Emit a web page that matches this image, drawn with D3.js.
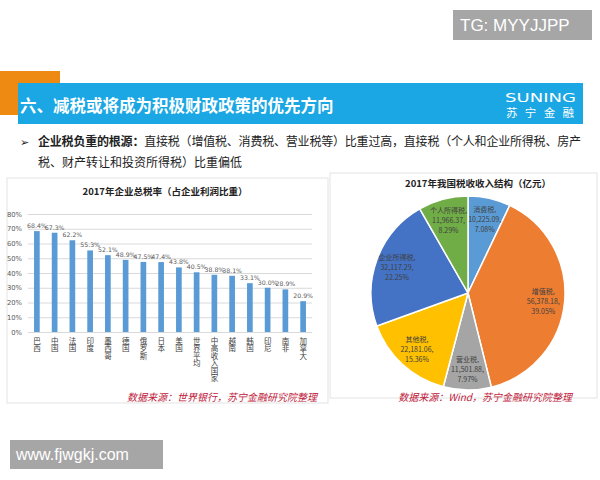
<!DOCTYPE html>
<html>
<head>
<meta charset="utf-8">
<script src="https://cdn.jsdelivr.net/npm/d3@7"></script>
<style>
body { margin: 0; background: #fff; }
svg { display: block; font-family: "Noto Sans CJK SC", "Noto Sans", sans-serif; }
</style>
</head>
<body>
<script>
// bar chart data
var countries = ["巴西", "中国", "法国", "印度", "墨西哥", "德国", "俄罗斯", "日本", "美国", "世界平均", "中高收入国家", "越南", "韩国", "印尼", "南非", "加拿大"];
var taxRates = [68.4, 67.3, 62.2, 55.3, 52.1, 48.9, 47.5, 47.4, 43.8, 40.5, 38.8, 38.1, 33.1, 30.0, 28.9, 20.9];
var yTicks = [0, 10, 20, 30, 40, 50, 60, 70, 80];

// pie data
var taxNames = ["消费税", "增值税", "营业税", "其他税", "企业所得税", "个人所得税"];
var taxValues = [10225.09, 56378.18, 11501.88, 22181.06, 32117.29, 11966.37];
var taxPcts = ["7.08%", "39.05%", "7.97%", "15.36%", "22.25%", "8.29%"];
var pieColors = ["#5b9bd5", "#ed7d31", "#a5a5a5", "#ffc000", "#4472c4", "#70ad47"];

var svg = d3.select("body").append("svg")
  .attr("width", 600)
  .attr("height", 480);

// watermark top right
svg.append("rect").attr("x", 453).attr("y", 10).attr("width", 139).attr("height", 30).attr("fill", "#a6a6a6");
svg.append("text").attr("x", 460).attr("y", 31).attr("fill", "#fff")
  .style("font-family", "Liberation Sans, Arial, sans-serif").style("font-size", "17px")
  .text("TG: MYYJJPP");

// header bar
svg.append("rect").attr("x", 0).attr("y", 71).attr("width", 60).attr("height", 44).attr("fill", "#ee8a12");
svg.append("rect").attr("x", 18).attr("y", 83).attr("width", 565).attr("height", 41).attr("fill", "#1aa7e3");
svg.append("text").attr("x", 20).attr("y", 112).attr("fill", "#fff")
  .style("font-size", "16.5px").style("font-weight", "bold")
  .text("六、减税或将成为积极财政政策的优先方向");
svg.append("text").attr("x", 505).attr("y", 102).attr("fill", "#fff")
  .attr("textLength", 71).attr("lengthAdjust", "spacingAndGlyphs")
  .style("font-family", "DejaVu Sans, sans-serif").style("font-size", "12px")
  .text("SUNING");
svg.append("text").attr("x", 506).attr("y", 117).attr("fill", "#fff")
  .attr("textLength", 68).attr("lengthAdjust", "spacing")
  .style("font-size", "11.5px")
  .text("苏宁金融");

// bullet text
svg.append("text").attr("x", 20).attr("y", 146).style("font-size", "11px").attr("fill", "#222").text("➢");
var line1 = svg.append("text").attr("x", 38).attr("y", 146).style("font-size", "12px").attr("fill", "#222")
  .attr("textLength", 543).attr("lengthAdjust", "spacing");
line1.append("tspan").style("font-weight", "bold").text("企业税负重的根源：");
line1.append("tspan").text("直接税（增值税、消费税、营业税等）比重过高，直接税（个人和企业所得税、房产");
svg.append("text").attr("x", 38).attr("y", 167).style("font-size", "12px").attr("fill", "#222")
  .text("税、财产转让和投资所得税）比重偏低");

// panels
svg.append("rect").attr("x", 7).attr("y", 178).attr("width", 321).attr("height", 225)
  .attr("fill", "#fff").attr("stroke", "#e3e3e3");
svg.append("rect").attr("x", 330).attr("y", 173).attr("width", 267).attr("height", 225)
  .attr("fill", "#fff").attr("stroke", "#e3e3e3");

// ---- bar chart ----
var x = d3.scaleBand().domain(countries).range([28, 312]).paddingInner(0.68).paddingOuter(0.34);
var y = d3.scaleLinear().domain([0, 80]).range([332, 214]);

svg.append("text").attr("x", 165).attr("y", 195).attr("text-anchor", "middle")
  .style("font-size", "9.5px").style("font-weight", "bold").attr("fill", "#222")
  .text("2017年企业总税率（占企业利润比重）");

var yAxis = d3.axisLeft(y).tickValues(yTicks).tickSize(-284).tickFormat(function(d) { return d + "%"; });
var gy = svg.append("g").attr("transform", "translate(28,0)").call(yAxis);
gy.select(".domain").remove();
gy.selectAll(".tick line").attr("stroke", "#d9d9d9");
gy.selectAll(".tick text").attr("x", -6).attr("fill", "#595959")
  .style("font-family", "DejaVu Sans, sans-serif").style("font-size", "6.8px");

svg.selectAll(".bar")
  .data(taxRates)
  .enter().append("rect")
  .attr("class", "bar")
  .attr("x", function(d, i) { return x(countries[i]); })
  .attr("width", x.bandwidth())
  .attr("y", function(d) { return y(d); })
  .attr("height", function(d) { return y(0) - y(d); })
  .attr("fill", "#5b9bd5");

svg.selectAll(".val")
  .data(taxRates)
  .enter().append("text")
  .attr("class", "val")
  .attr("x", function(d, i) { return x(countries[i]) + x.bandwidth() / 2; })
  .attr("y", function(d) { return y(d) - 3; })
  .attr("text-anchor", "middle")
  .attr("fill", "#595959")
  .style("font-family", "DejaVu Sans, sans-serif").style("font-size", "6.2px")
  .text(function(d) { return d.toFixed(1) + "%"; });

// vertical category labels, one glyph per row
svg.selectAll(".cat")
  .data(countries)
  .enter().append("text")
  .attr("class", "cat")
  .attr("x", function(d) { return x(d) + x.bandwidth() / 2; })
  .attr("y", 337)
  .attr("fill", "#404040")
  .style("font-size", "7.5px")
  .style("writing-mode", "vertical-rl")
  .style("text-orientation", "upright")
  .text(function(d) { return d; });

svg.append("text").attr("x", 317).attr("y", 401).attr("text-anchor", "end")
  .attr("fill", "#c0203a").style("font-size", "10px").style("font-style", "italic")
  .text("数据来源：世界银行，苏宁金融研究院整理");

// ---- pie chart ----
var cx = 468, cy = 293, r = 97;
svg.append("text").attr("x", 478).attr("y", 187).attr("text-anchor", "middle")
  .style("font-size", "9.5px").style("font-weight", "bold").attr("fill", "#222")
  .text("2017年我国税收收入结构（亿元）");

var pie = d3.pie().sort(null).value(function(d) { return d; });
var arcs = pie(taxValues);
var arc = d3.arc().innerRadius(0).outerRadius(r);
var labelArc = d3.arc().innerRadius(r * 0.78).outerRadius(r * 0.78);

var gp = svg.append("g").attr("transform", "translate(" + cx + "," + cy + ")");
gp.selectAll(".slice")
  .data(arcs)
  .enter().append("path")
  .attr("class", "slice")
  .attr("d", arc)
  .attr("fill", function(d, i) { return pieColors[i]; })
  .attr("stroke", "#fff")
  .attr("stroke-width", 1.5);

var fmt = d3.format(",.2f");
gp.selectAll(".plabel")
  .data(arcs)
  .enter().append("text")
  .attr("class", "plabel")
  .attr("text-anchor", "middle")
  .attr("fill", "#404040")
  .style("font-size", "7px")
  .each(function(d, i) {
    var c = labelArc.centroid(d);
    var t = d3.select(this);
    var lines = [taxNames[i] + ",", fmt(d.data) + ",", taxPcts[i]];
    lines.forEach(function(s, k) {
      t.append("tspan").attr("x", c[0]).attr("y", c[1] - 7 + k * 10).text(s);
    });
  });

svg.append("text").attr("x", 572).attr("y", 401).attr("text-anchor", "end")
  .attr("fill", "#c0203a").style("font-size", "10px").style("font-style", "italic")
  .text("数据来源：Wind，苏宁金融研究院整理");

// watermark bottom left
svg.append("rect").attr("x", 10).attr("y", 440).attr("width", 153).attr("height", 29).attr("fill", "#a6a6a6");
svg.append("text").attr("x", 16).attr("y", 460).attr("fill", "#fff")
  .style("font-family", "Liberation Sans, Arial, sans-serif").style("font-size", "16px")
  .text("www.fjwgkj.com");
</script>
</body>
</html>
